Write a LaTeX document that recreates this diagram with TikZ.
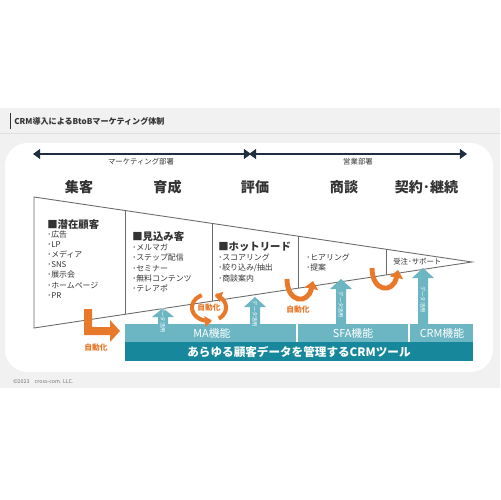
\documentclass[tikz,border=0pt]{standalone}
\usepackage{fontspec}
\setmainfont{Noto Sans CJK JP}
\usepackage{tikz}
\usetikzlibrary{arrows.meta}
\definecolor{navy}{HTML}{1F2F40}
\definecolor{tealA}{HTML}{6CB6C4}
\definecolor{tealB}{HTML}{17879B}
\definecolor{orng}{HTML}{E8782A}
\definecolor{txt}{HTML}{333333}
\definecolor{bodybg}{HTML}{F1F1F1}
\definecolor{funnel}{HTML}{6B6B6B}

\begin{document}
\begin{tikzpicture}[x=0.02cm, y=-0.02cm,
	every node/.style={inner sep=0pt, text=txt},
	stagehead/.style={font=\bfseries\fontsize{8}{9}\selectfont},
	grouphead/.style={font=\bfseries\fontsize{5.9}{7}\selectfont, anchor=west},
	items/.style={font=\fontsize{4.5}{5.75}\selectfont, anchor=west, align=left},
	depthead/.style={font=\fontsize{4.2}{5}\selectfont},
	deptline/.style={navy, line width=1.6pt, {Triangle[length=4pt,width=5.5pt]}-{Triangle[length=4pt,width=5.5pt]}},
	autolabel/.style={font=\bfseries\fontsize{4.4}{5}\selectfont, text=orng},
	bartext/.style={font=\fontsize{6.2}{7}\selectfont, text=white},
	usetext/.style={font=\fontsize{3}{3.5}\selectfont, text=white, rotate=-90},
	cyc/.style={orng, line width=2.3pt, -{Triangle[length=4pt,width=6pt]}},
	uarr/.style={orng, line width=2.8pt, -{Triangle[length=4.5pt,width=7.5pt]}}]
	\useasboundingbox (0,0) rectangle (500,500);
	\fill[white] (0,0) rectangle (500,500);
	\fill[bodybg] (0,108) rectangle (500,388);
	\draw[black!12, line width=0.5pt] (0,133) -- (500,133);
	\draw[txt, line width=0.6pt] (10.5,113) -- (10.5,129);
	\node[anchor=west, font=\bfseries\fontsize{4.6}{5}\selectfont] (title) at (14,121) {CRM導入によるBtoBマーケティング体制};
	\fill[white, rounded corners=0.45cm] (5,143) rectangle (493,372);
	\node[anchor=west, font=\fontsize{3}{3.5}\selectfont, text=black!55] (foot) at (13,382) {©2023\quad cross-com. LLC.};
	
	\coordinate (mkL) at (33,154);
	\coordinate (mkR) at (251,154);
	\coordinate (slL) at (249,154);
	\coordinate (slR) at (467,154);
	\draw[deptline] (mkL) -- (mkR);
	\draw[deptline] (slL) -- (slR);
	\node[depthead] (mkt) at (141,162) {マーケティング部署};
	\node[depthead] (sales) at (358,162) {営業部署};
	
	\node[stagehead] (s1) at (79,187.5) {集客};
	\node[stagehead] (s2) at (167.5,187.5) {育成};
	\node[stagehead] (s3) at (255,187.5) {評価};
	\node[stagehead] (s4) at (344,187.5) {商談};
	\node[stagehead] (s5) at (426.5,187.5) {契約･継続};
	
	\draw[funnel, line width=0.5pt] (34,197) -- (472,262) -- (34,328) -- cycle;
	\draw[funnel, line width=0.5pt] (125,210.5) -- (125,314.3);
	\draw[funnel, line width=0.5pt] (212,223.4) -- (212,301.2);
	\draw[funnel, line width=0.5pt] (298,236.2) -- (298,288.2);
	\draw[funnel, line width=0.5pt] (386,249.2) -- (386,275);
	
	\node[grouphead] (g1) at (47,225) {■潜在顧客};
	\node[items] (l1) at (47,264.5) {･広告\\･LP\\･メディア\\･SNS\\･展示会\\･ホームページ\\･PR};
	\node[grouphead] (g2) at (132,237) {■見込み客};
	\node[items] (l2) at (132,268) {･メルマガ\\･ステップ配信\\･セミナー\\･無料コンテンツ\\･テレアポ};
	\node[grouphead] (g3) at (218,246.5) {■ホットリード};
	\node[items] (l3) at (218,268) {･スコアリング\\･絞り込み/抽出\\･商談案内};
	\node[items] (l4) at (306,262.5) {･ヒアリング\\･提案};
	\node[items, font=\fontsize{4.2}{5}\selectfont] (l5) at (393,262) {受注･サポート};
	
	\fill[tealA] (125,324) rectangle (473,342);
	\fill[tealB] (125,342) rectangle (473,361);
	\draw[white, line width=0.6pt] (297,324) -- (297,342);
	\draw[white, line width=0.6pt] (409,324) -- (409,342);
	\node[bartext] (ma) at (212,333.5) {MA機能};
	\node[bartext] (sfa) at (353,333.5) {SFA機能};
	\node[bartext] (crm) at (442,333.5) {CRM機能};
	\node[bartext, font=\bfseries\fontsize{6.6}{8}\selectfont] (tool) at (299,352) {あらゆる顧客データを管理するCRMツール};
	
	\foreach \x/\t/\b in {163/308/317, 255/297/307, 341/279/289, 423/268/278} {
		\fill[tealA] (\x-5,325) -- (\x-5,\b) -- (\x-11,\b) -- (\x,\t) -- (\x+11,\b) -- (\x+5,\b) -- (\x+5,325) -- cycle;
		\node[usetext] (use\x) at (\x,{(\t+331)/2}) {データ活用};
	}
	
	\fill[orng] (84,309) -- (92,309) -- (92,327) -- (110,327) -- (110,320) -- (120,331) -- (110,342) -- (110,335) -- (84,335) -- cycle;
	\node[autolabel] (a1) at (96,348) {自動化};
	\draw[cyc] plot[domain=55:-70, samples=30] ({209+17*cos(\x)}, {307.5+13.5*sin(\x)});
	\draw[cyc] plot[domain=-115:-280, samples=30] ({209+17*cos(\x)}, {307.5+13.5*sin(\x)});
	\node[autolabel] (a2) at (209,308) {自動化};
	\draw[uarr] (287,279) .. controls (287,303) and (308,305) .. (313,281);
	\node[autolabel] (a3) at (298,310) {自動化};
	\draw[uarr] (372,268) .. controls (372,292) and (393,294) .. (398,270);
\end{tikzpicture}
\end{document}
